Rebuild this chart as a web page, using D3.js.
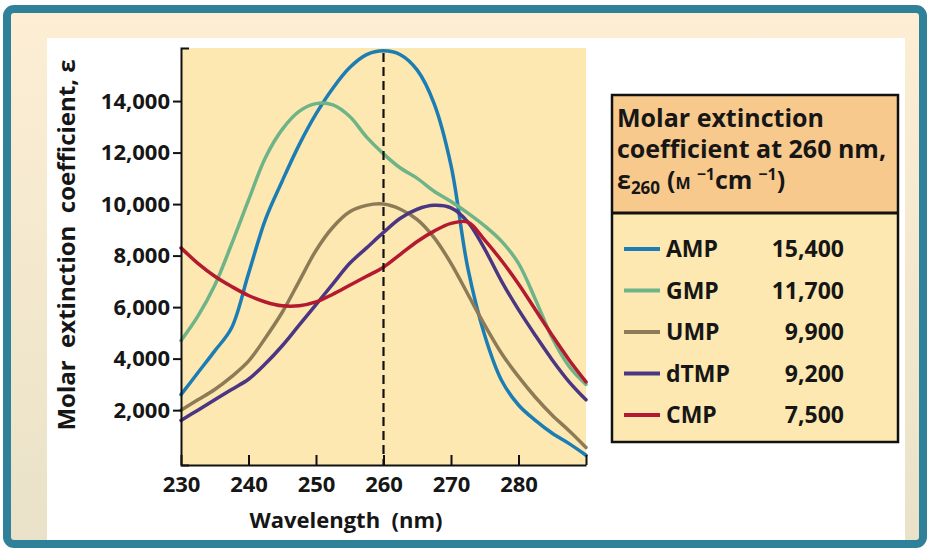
<!DOCTYPE html>
<html>
<head>
<meta charset="utf-8">
<script src="https://cdn.jsdelivr.net/npm/d3@7"></script>
<style>
  * { margin: 0; padding: 0; }
  html, body { width: 927px; height: 548px; overflow: hidden; background: #fff; }
  svg { display: block; font-family: 'Open Sans', sans-serif; font-weight: 700; }
</style>
</head>
<body>
<svg id="chart" width="927" height="548"></svg>
<script>
// wavelength grid (nm) and absorbance curves
const wavelengths = [230, 232.5, 235, 237.5, 240, 242.5, 245, 247.5, 250, 252.5, 255, 257.5, 260,
  262.5, 265, 267.5, 270, 272.5, 275, 277.5, 280, 282.5, 285, 287.5, 290];
const ampValues  = [2600, 3450, 4300, 5200, 7300, 9400, 10900, 12300, 13500, 14500, 15300, 15800, 15950,
  15800, 15200, 13900, 11500, 7500, 4900, 3150, 2200, 1600, 1100, 700, 250];
const gmpValues  = [4700, 5650, 6850, 8450, 10150, 11800, 12900, 13600, 13900, 13850, 13400, 12600, 11950,
  11400, 11000, 10500, 10100, 9650, 9150, 8550, 7700, 6300, 4800, 3700, 3000];
const umpValues  = [2000, 2400, 2800, 3300, 3900, 4800, 5800, 7000, 8200, 9100, 9700, 9950, 10000,
  9800, 9400, 8700, 7700, 6500, 5300, 4200, 3300, 2500, 1800, 1200, 550];
const dtmpValues = [1600, 2000, 2400, 2800, 3200, 3800, 4500, 5300, 6100, 6900, 7700, 8300, 8900,
  9450, 9800, 9950, 9850, 9300, 8250, 7000, 5900, 4900, 3950, 3100, 2400];
const cmpValues  = [8300, 7700, 7200, 6800, 6450, 6200, 6050, 6050, 6200, 6500, 6850, 7200, 7550,
  8050, 8550, 8950, 9250, 9300, 8600, 7800, 6900, 5900, 4900, 3950, 3100];

const names = ['AMP', 'GMP', 'UMP', 'dTMP', 'CMP'];
const eps260 = ['15,400', '11,700', '9,900', '9,200', '7,500'];
const colors = ['#1c7db5', '#6fb388', '#8d7b58', '#4a3682', '#b31a2f'];
const curves = [ampValues, gmpValues, umpValues, dtmpValues, cmpValues];

const xTicks = [230, 240, 250, 260, 270, 280, 290];
const yTicks = [2000, 4000, 6000, 8000, 10000, 12000, 14000];
const markWavelength = 260;

const X_MIN = 230, X_MAX = 290;
const Y_MIN = -130, Y_MAX = 16060;

const svg = d3.select('#chart');

// frame + background
const defs = svg.append('defs');
const grad = defs.append('linearGradient').attr('id', 'bg').attr('x1', 0).attr('y1', 0).attr('x2', 0).attr('y2', 1);
grad.append('stop').attr('offset', '0%').attr('stop-color', '#fdeed4');
grad.append('stop').attr('offset', '100%').attr('stop-color', '#e9e2c8');

svg.append('rect')
  .attr('x', 7).attr('y', 9).attr('width', 916).attr('height', 535)
  .attr('rx', 7)
  .attr('fill', 'url(#bg)')
  .attr('stroke', '#2f8199')
  .attr('stroke-width', 8);

svg.append('rect')
  .attr('x', 47).attr('y', 38).attr('width', 858).attr('height', 502)
  .attr('fill', '#ffffff');

// scales
const x = d3.scaleLinear().domain([X_MIN, X_MAX]).range([181, 586]);
const y = d3.scaleLinear().domain([Y_MIN, Y_MAX]).range([465, 48]);

svg.append('rect')
  .attr('x', x(X_MIN)).attr('y', y(Y_MAX))
  .attr('width', x(X_MAX) - x(X_MIN))
  .attr('height', y(Y_MIN) - y(Y_MAX))
  .attr('fill', '#fce8b0');

// curves
const line = d3.line()
  .x((d, i) => x(wavelengths[i]))
  .y(d => y(d))
  .curve(d3.curveCatmullRom);

svg.append('g')
  .selectAll('path')
  .data(curves)
  .join('path')
  .attr('d', line)
  .attr('fill', 'none')
  .attr('stroke', (d, i) => colors[i])
  .attr('stroke-width', 3.5)
  .attr('stroke-linecap', 'round');

// dashed line at 260 nm
svg.append('line')
  .attr('x1', x(markWavelength)).attr('x2', x(markWavelength))
  .attr('y1', y(Y_MAX) + 5).attr('y2', y(Y_MIN))
  .attr('stroke', '#111')
  .attr('stroke-width', 2.2)
  .attr('stroke-dasharray', '9,5');

// axes
const yAxis = d3.axisLeft(y)
  .tickValues(yTicks)
  .tickFormat(d3.format(','))
  .tickSize(8)
  .tickSizeOuter(-8)
  .tickPadding(3);

const xAxis = d3.axisBottom(x)
  .tickValues(xTicks)
  .tickFormat(d => d === X_MAX ? '' : d)
  .tickSize(-10)
  .tickSizeOuter(0)
  .tickPadding(11);

const gy = svg.append('g').attr('transform', `translate(${x(X_MIN)},0)`).call(yAxis);
const gx = svg.append('g').attr('transform', `translate(0,${y(Y_MIN)})`).call(xAxis);

[gx, gy].forEach(g => {
  g.select('.domain').attr('stroke', '#111').attr('stroke-width', 2);
  g.selectAll('.tick line').attr('stroke', '#111').attr('stroke-width', 2);
  g.selectAll('.tick text')
    .attr('fill', '#161616')
    .style('font-family', "'Open Sans', sans-serif")
    .style('font-weight', 700)
    .style('font-size', '22px');
});

// axis titles
svg.append('text')
  .attr('x', 346).attr('y', 528)
  .attr('text-anchor', 'middle')
  .attr('fill', '#161616')
  .style('font-size', '22px')
  .text('Wavelength\u00a0\u00a0(nm)');

svg.append('text')
  .attr('transform', 'translate(75,245) rotate(-90)')
  .attr('text-anchor', 'middle')
  .attr('fill', '#161616')
  .style('font-size', '24px')
  .text('Molar\u00a0\u00a0extinction\u00a0\u00a0coefficient,\u00a0ε');

// legend box
const lg = svg.append('g');
lg.append('rect')
  .attr('x', 612).attr('y', 95).attr('width', 286).attr('height', 347)
  .attr('fill', '#fce8b0');
lg.append('rect')
  .attr('x', 612).attr('y', 95).attr('width', 286).attr('height', 118)
  .attr('fill', '#f8c98c');
lg.append('line')
  .attr('x1', 612).attr('x2', 898).attr('y1', 213).attr('y2', 213)
  .attr('stroke', '#111').attr('stroke-width', 3);
lg.append('rect')
  .attr('x', 612).attr('y', 95).attr('width', 286).attr('height', 347)
  .attr('fill', 'none')
  .attr('stroke', '#111').attr('stroke-width', 2.5);

const head = lg.append('text').attr('fill', '#161616').style('font-size', '25px');
head.append('tspan').attr('x', 617).attr('y', 127).text('Molar extinction');
head.append('tspan').attr('x', 617).attr('y', 158).text('coefficient at 260 nm,');

const l3 = lg.append('text').attr('x', 617).attr('y', 189).attr('fill', '#161616').style('font-size', '25px');
l3.append('tspan').text('ε');
l3.append('tspan').attr('dy', 5).style('font-size', '17px').text('260');
l3.append('tspan').attr('dy', -5).attr('dx', 7).text('(');
l3.append('tspan').style('font-size', '16px').text('M');
l3.append('tspan').attr('dy', -9).attr('dx', 6).style('font-size', '16px').text('\u22121');
l3.append('tspan').attr('dy', 9).text('cm');
l3.append('tspan').attr('dy', -9).attr('dx', 6).style('font-size', '16px').text('\u22121');
l3.append('tspan').attr('dy', 9).text(')');

const rows = lg.selectAll('g.row')
  .data(names)
  .join('g')
  .attr('class', 'row')
  .attr('transform', (d, i) => `translate(0,${249 + i * 41.5})`);

rows.append('line')
  .attr('x1', 624).attr('x2', 660)
  .attr('stroke', (d, i) => colors[i])
  .attr('stroke-width', 4);

rows.append('text')
  .attr('x', 666).attr('dy', '0.36em')
  .attr('fill', '#161616')
  .style('font-size', '23px')
  .text(d => d);

rows.append('text')
  .attr('x', 844).attr('dy', '0.36em')
  .attr('text-anchor', 'end')
  .attr('fill', '#161616')
  .style('font-size', '23px')
  .text((d, i) => eps260[i]);
</script>
</body>
</html>
